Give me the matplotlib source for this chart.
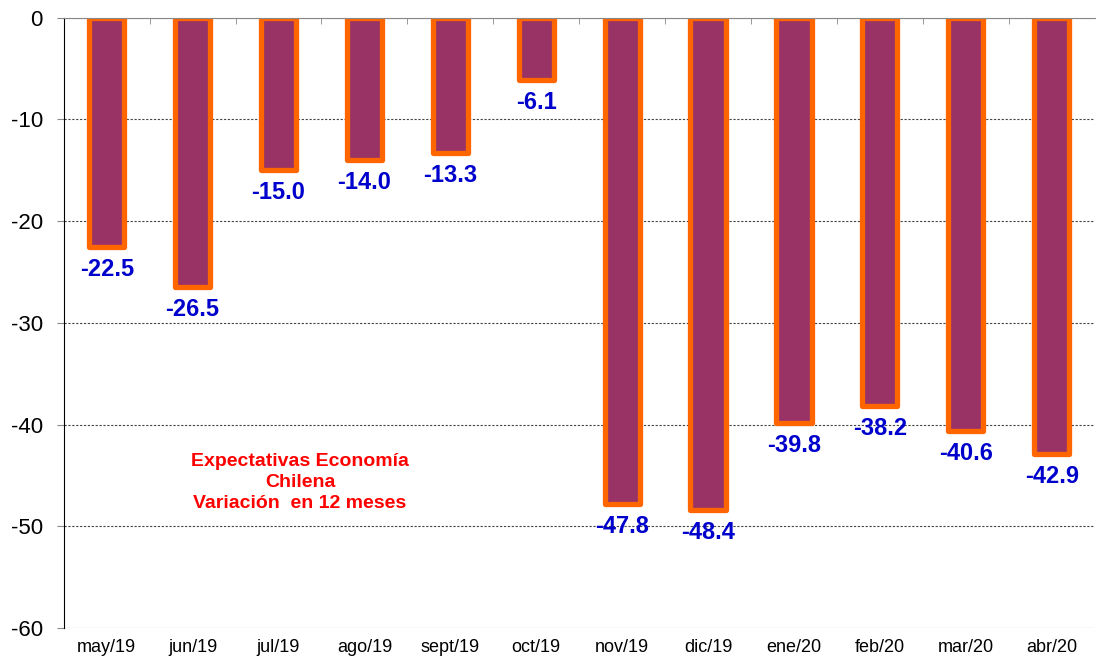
import matplotlib.pyplot as plt
import matplotlib.ticker as mtick
import numpy as np

months = ["may/19", "jun/19", "jul/19", "ago/19", "sept/19", "oct/19",
          "nov/19", "dic/19", "ene/20", "feb/20", "mar/20", "abr/20"]
values = [-22.5, -26.5, -15.0, -14.0, -13.3, -6.1,
          -47.8, -48.4, -39.8, -38.2, -40.6, -42.9]

plt.rcParams["font.family"] = ["Liberation Sans", "DejaVu Sans"]
plt.rcParams["axes.unicode_minus"] = False

fig = plt.figure(figsize=(10.99, 6.59), dpi=100)
ax = fig.add_axes([0.058, 0.047, 0.938, 0.926])

x = np.arange(len(months))
bars = ax.bar(x, values, width=0.41, color="#993366", edgecolor="#FF6600",
              linewidth=3.8, zorder=3)
for b in bars:
    b.set_joinstyle("round")

for xi, v in zip(x, values):
    ax.annotate("{:.1f}".format(v), (xi, v), xytext=(0, -8), textcoords="offset points",
                ha="center", va="top", fontsize=17, fontweight="bold",
                color="#0000CC", zorder=4)

ax.text(2.25, -45.7, "Expectativas Economía\nChilena\nVariación  en 12 meses",
        ha="center", va="center", fontsize=14, fontweight="bold",
        color="#FF0000", linespacing=1.3)

ax.set_xlim(-0.5, len(months) - 0.5)
ax.set_ylim(-60, 0)
ax.set_yticks(np.arange(-60, 1, 10))
ax.yaxis.grid(True, linestyle=(0, (2, 1.5)), color="#444444", linewidth=0.8, zorder=0)

ax.set_xticks(x)
ax.set_xticklabels(months, fontsize=13)
ax.tick_params(axis="x", which="major", length=0, pad=8)
ax.xaxis.set_minor_locator(mtick.FixedLocator(x[:-1] + 0.5))
ax.tick_params(axis="x", which="minor", bottom=False, top=True,
               direction="in", length=4, color="#888888")
ax.tick_params(axis="y", labelsize=16, length=5, color="#888888", pad=10)

ax.spines["right"].set_visible(False)
ax.spines["bottom"].set_visible(False)
ax.spines["top"].set_color("#888888")
ax.spines["top"].set_zorder(5)
ax.spines["left"].set_color("black")

plt.savefig("out.png", dpi=100)
